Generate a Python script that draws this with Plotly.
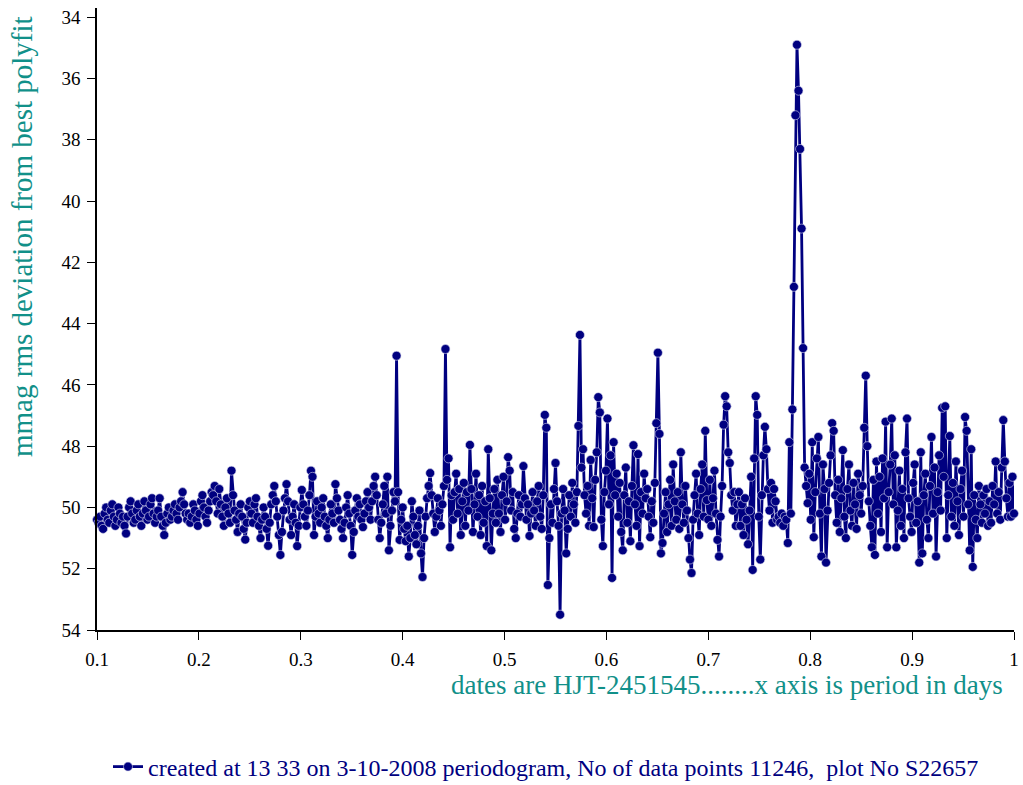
import numpy as np
import plotly.graph_objects as go

# Period grid (days): 0.1 .. 1.0 in steps of 0.0015
period_start = 0.1
period_step = 0.0015

# rms deviation (mmag), rows of 20 points each (0.03 days per row)
rms_values = [
    50.4, 50.5, 50.3, 50.6, 50.7, 50.2, 50.0, 50.4, 50.5, 50.1, 49.9, 50.3, 50.6, 50.4, 50.0, 50.2, 50.5, 50.3, 50.6, 50.85,
    50.3, 50.0, 49.8, 50.2, 50.5, 50.4, 50.1, 49.9, 50.3, 50.6, 50.2, 49.8, 50.1, 50.4, 50.3, 49.9, 49.7, 50.2, 50.5, 50.3,
    50.1, 49.7, 50.3, 50.6, 50.9, 50.5, 50.2, 50.0, 50.4, 50.3, 50.1, 49.9, 50.2, 50.4, 50.0, 49.8, 49.5, 49.9, 50.2, 50.4,
    50.2, 50.5, 50.3, 49.9, 50.1, 50.4, 50.6, 50.2, 49.8, 49.6, 50.0, 50.3, 50.5, 50.1, 49.8, 49.5, 49.6, 49.3, 49.8, 50.2,
    49.4, 49.9, 50.3, 50.6, 50.0, 49.7, 50.2, 50.5, 48.8, 49.6, 50.1, 50.4, 50.8, 50.2, 49.9, 50.3, 50.7, 51.05, 50.5, 50.0,
    49.8, 50.2, 50.5, 49.9, 49.7, 50.3, 50.6, 51.0, 50.4, 50.0, 50.3, 50.7, 51.25, 50.5, 49.9, 49.6, 49.3, 49.8, 50.3, 50.9,
    51.55, 50.8, 50.1, 49.7, 49.24, 49.8, 50.4, 50.9, 50.3, 49.9, 50.5, 51.26, 50.6, 50.0, 49.43, 49.9, 50.3, 50.6, 50.1, 49.6,
    48.8, 49.0, 50.9, 50.3, 49.8, 50.2, 50.5, 50.0, 49.7, 50.3, 50.6, 51.0, 50.4, 49.9, 50.2, 50.5, 49.24, 49.7, 50.1, 50.4,
    50.7, 51.0, 50.5, 50.0, 49.6, 50.2, 50.6, 51.55, 50.8, 50.1, 49.7, 50.3, 49.9, 50.4, 50.64, 50.2, 49.8, 49.5, 50.0, 50.4,
    49.8, 49.3, 49.0, 49.6, 50.4, 51.0, 50.5, 49.9, 49.3, 50.2, 49.0, 51.4, 50.6, 50.1, 49.5, 49.8, 45.05, 49.5, 51.06, 50.4,
    50.0, 50.7, 51.1, 50.6, 51.6, 51.0, 49.8, 50.3, 50.9, 51.2, 50.6, 50.1, 51.5, 52.27, 51.0, 50.3, 49.7, 49.3, 48.88, 49.6,
    50.2, 50.8, 50.3, 49.7, 50.1, 50.6, 49.9, 49.3, 44.83, 49.1, 48.4, 51.3, 49.6, 50.4, 49.5, 48.9, 50.2, 49.4, 50.9, 49.8,
    49.2, 50.6, 49.5, 50.1, 47.96, 49.4, 50.8, 49.9, 48.9, 50.3, 49.6, 50.9, 49.3, 50.5, 49.8, 51.26, 48.1, 49.7, 51.4, 50.2,
    49.4, 50.5, 49.1, 50.2, 50.8, 49.6, 49.0, 50.4, 49.8, 48.36, 48.8, 50.1, 49.5, 50.7, 51.0, 50.2, 49.6, 50.3, 49.9, 48.65,
    49.7, 50.4, 49.9, 50.93, 50.2, 49.5, 50.1, 50.6, 49.8, 49.3, 50.3, 50.7, 49.6, 46.98, 47.4, 52.53, 51.0, 49.9, 50.5, 49.4,
    48.55, 49.8, 50.6, 53.5, 50.2, 49.4, 50.1, 51.5, 50.7, 49.6, 50.3, 49.2, 49.9, 50.5, 49.5, 47.34, 44.37, 48.7, 48.1, 49.6,
    50.2, 49.3, 50.6, 48.45, 49.7, 50.64, 49.1, 48.2, 46.4, 46.9, 50.4, 51.26, 49.5, 48.8, 47.1, 49.9, 48.3, 52.3, 47.87, 49.6,
    48.9, 50.3, 49.2, 50.8, 51.4, 49.6, 48.7, 50.5, 49.8, 51.1, 49.3, 47.97, 49.9, 50.6, 48.26, 51.26, 49.5, 50.2, 48.9, 49.7,
    49.4, 50.3, 50.97, 49.8, 50.5, 49.2, 47.25, 44.95, 47.6, 51.5, 51.16, 50.2, 49.5, 50.8, 49.9, 49.1, 50.6, 48.6, 49.8, 50.4,
    49.5, 50.7, 48.2, 49.9, 50.5, 49.3, 50.1, 51.0, 51.7, 52.14, 50.4, 49.6, 48.9, 50.2, 50.9, 49.4, 48.6, 50.3, 47.5, 49.76,
    50.4, 49.1, 50.6, 49.7, 48.8, 50.2, 51.06, 51.6, 50.3, 49.3, 47.3, 46.37, 46.7, 48.2, 48.55, 49.6, 50.1, 49.5, 50.6, 49.9,
    49.5, 50.6, 49.9, 50.9, 49.7, 50.4, 51.2, 50.1, 49.0, 52.04, 48.4, 46.37, 46.98, 50.3, 51.7, 49.6, 48.3, 47.37, 48.1, 49.4,
    50.1, 49.2, 50.5, 49.4, 49.8, 50.4, 50.3, 50.5, 50.2, 50.6, 50.3, 50.4, 51.16, 47.87, 50.2, 46.8, 42.8, 37.2, 34.9, 36.4,
    38.3, 40.9, 44.8, 48.7, 49.3, 49.86, 48.9, 50.4, 47.87, 50.97, 49.5, 48.4, 47.7, 50.2, 51.6, 48.6, 49.4, 51.8, 50.1, 49.2,
    48.3, 47.25, 47.5, 49.6, 50.5, 49.1, 50.8, 49.7, 48.13, 50.3, 51.0, 49.4, 48.6, 50.1, 50.6, 49.2, 49.9, 50.7, 48.9, 49.6,
    50.2, 49.3, 47.4, 45.7, 48.0, 49.8, 50.6, 51.3, 49.1, 51.55, 48.5, 50.2, 49.0, 50.8, 48.4, 49.7, 47.2, 51.3, 49.5, 48.6,
    47.1, 49.9, 48.3, 51.3, 50.1, 48.8, 50.6, 49.4, 51.0, 48.2, 47.1, 49.7, 50.3, 50.8, 49.2, 48.6, 50.5, 49.8, 51.8, 48.2,
    51.5, 49.6, 48.9, 50.4, 51.0, 49.3, 47.7, 50.2, 48.7, 51.6, 49.5, 48.3, 50.1, 46.75, 49.0, 46.7, 51.0, 49.6, 47.67, 50.3,
    49.2, 50.6, 48.5, 49.8, 50.9, 49.4, 48.8, 50.3, 47.05, 47.5, 49.9, 51.4, 48.1, 51.94, 49.6, 50.4, 51.0, 49.3, 49.9, 50.5,
    49.6, 50.2, 49.4, 50.6, 49.8, 50.5, 49.3, 49.9, 48.5, 50.2, 49.5, 50.4, 48.7, 47.15, 48.5, 49.7, 50.3, 49.2, 50.3, 49.0,
    50.2,
]

periods = np.round(period_start + period_step * np.arange(len(rms_values)), 4)

y_ticks = [34, 36, 38, 40, 42, 44, 46, 48, 50, 52, 54]
x_ticks = [0.1, 0.2, 0.3, 0.4, 0.5, 0.6, 0.7, 0.8, 0.9, 1.0]
x_tick_text = ["0.1", "0.2", "0.3", "0.4", "0.5", "0.6", "0.7", "0.8", "0.9", "1"]

series_name = "created at 13 33 on 3-10-2008 periodogram, No of data points 11246,\u00a0 plot No S22657"
y_title = "mmag rms deviation from best polyfit"
x_title = "dates are HJT-2451545........x axis is period in days"

NAVY = "#000080"
TEAL = "#119089"
FONT = "Liberation Serif, Times New Roman, serif"

fig = go.Figure()
fig.add_trace(go.Scatter(
    x=periods, y=rms_values, mode="lines+markers", name=series_name,
    line=dict(color=NAVY, width=2.8),
    marker=dict(color=NAVY, size=9, line=dict(color="#dcdcf0", width=0.6)),
    cliponaxis=False,
))

fig.update_layout(
    width=1023, height=785,
    margin=dict(l=97, r=9, t=8, b=155, autoexpand=False),
    paper_bgcolor="white", plot_bgcolor="white",
    font=dict(family=FONT, size=19, color="black"),
    showlegend=True,
    legend=dict(
        orientation="h", xref="container", yref="container",
        x=108 / 1023, y=(785 - 767) / 785, xanchor="left", yanchor="middle",
        font=dict(family=FONT, size=24, color=NAVY),
        bgcolor="rgba(0,0,0,0)", itemwidth=30,
    ),
    xaxis=dict(
        range=[0.1, 1.0], tickvals=x_ticks, ticktext=x_tick_text,
        showline=True, linecolor="black", linewidth=1.5,
        ticks="outside", ticklen=8, tickcolor="black", tickwidth=1,
        ticklabelstandoff=3,
        showgrid=False, zeroline=False,
        tickfont=dict(family=FONT, size=19, color="black"),
    ),
    yaxis=dict(
        range=[54, 33.7], tickvals=y_ticks,
        showline=True, linecolor="black", linewidth=1.5,
        ticks="outside", ticklen=8, tickcolor="black", tickwidth=1,
        ticklabelstandoff=3,
        showgrid=False, zeroline=False,
        tickfont=dict(family=FONT, size=19, color="black"),
    ),
    annotations=[
        dict(text=y_title, xref="paper", yref="paper",
             x=(22 - 97) / 917, y=(630 - 237) / 622, xanchor="center", yanchor="middle",
             textangle=-90, showarrow=False,
             font=dict(family=FONT, size=29, color=TEAL)),
        dict(text=x_title, xref="paper", yref="paper",
             x=(1005 - 97) / 917, y=(630 - 685) / 622, xanchor="right", yanchor="middle",
             showarrow=False,
             font=dict(family=FONT, size=27, color=TEAL)),
    ],
)

fig.write_html("out.html")
